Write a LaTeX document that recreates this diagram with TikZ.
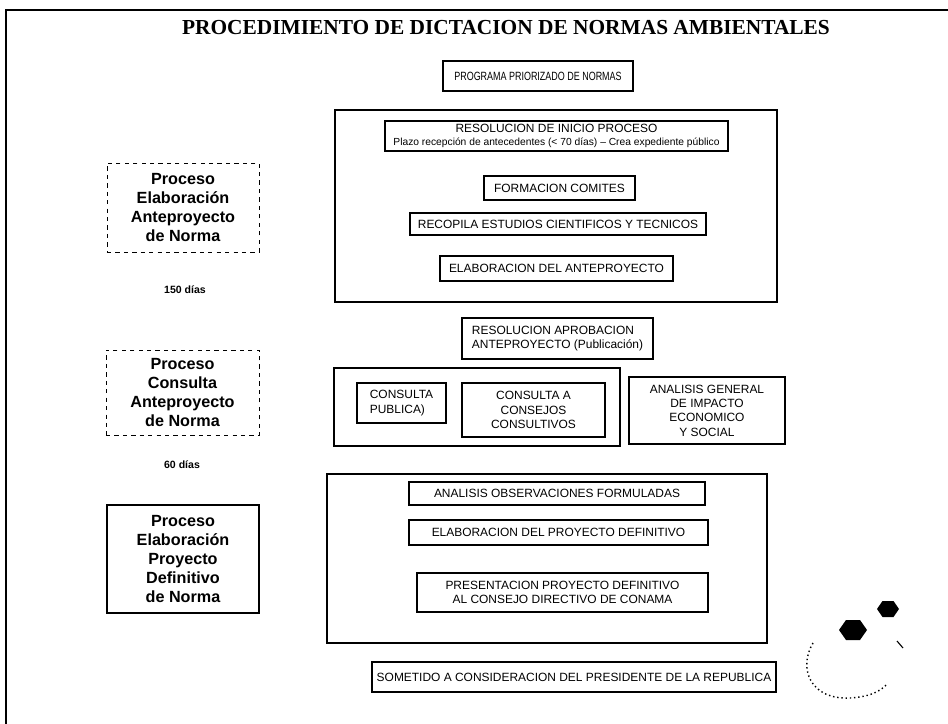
\documentclass[tikz,border=0pt]{standalone}
\usepackage{fontspec}
\setmainfont{Liberation Serif}
\setsansfont{Liberation Sans}
\usepackage{tikz}

\begin{document}
\begin{tikzpicture}[x=0.025cm, y=-0.025cm,
	caja/.style={draw, thick, inner sep=0pt, align=center, font=\sffamily\fontsize{8.5}{10.2}\selectfont},
	rotulo/.style={draw, inner sep=0pt, align=center, font=\sffamily\bfseries\fontsize{11.5}{13.5}\selectfont},
	plazo/.style={inner sep=0pt, font=\sffamily\bfseries\fontsize{7.5}{8}\selectfont},
	marco/.style={line width=1.1pt}]

\useasboundingbox (0,0) rectangle (948,724)					;

%%%%------------Marco y titulo----------------%%
\draw [marco] (6,724) -- (6,10) -- (948,10)					;
\node (titulo) at (506,28) {\fontsize{15.2}{18}\selectfont\bfseries PROCEDIMIENTO DE DICTACION DE NORMAS AMBIENTALES}	;

\node [caja, minimum width=4.75cm, minimum height=0.75cm] (programa) at (538,76) {\scalebox{0.75}[1]{PROGRAMA PRIORIZADO DE NORMAS}}	;

%%%%------------Anteproyecto----------------%%
\draw [marco] (335,110) rectangle (777,302)					;
\node [caja, minimum width=8.575cm, minimum height=0.75cm] (inicio) at (556.5,136)
	{RESOLUCION DE INICIO PROCESO\\[-1.5pt]{\fontsize{7.3}{8}\selectfont Plazo recepción de antecedentes (< 70 días) -- Crea expediente público}}	;
\node [caja, minimum width=3.775cm, minimum height=0.6cm] (comites) at (559.5,188) {FORMACION COMITES}	;
\node [caja, minimum width=7.4cm, minimum height=0.55cm] (estudios) at (558,224) {RECOPILA ESTUDIOS CIENTIFICOS Y TECNICOS}	;
\node [caja, minimum width=5.825cm, minimum height=0.625cm] (anteproy) at (556.5,268.5) {ELABORACION DEL ANTEPROYECTO}	;

\node [rotulo, dashed, thin, minimum width=3.8cm, minimum height=2.225cm] (etapa1) at (183,207.5)
	{Proceso\\Elaboración\\Anteproyecto\\de Norma}			;
\node [plazo] (dias150) at (185,290) {150 días}				;

%%%%------------Consulta----------------%%
\node [caja, align=left, minimum width=4.775cm, minimum height=1.025cm] (aprobacion) at (557.5,338.5)
	{RESOLUCION APROBACION\\ANTEPROYECTO (Publicación)}		;
\draw [marco] (334,368) rectangle (620,446)					;
\node [caja, align=left, minimum width=2.225cm, minimum height=1.0cm] (publica) at (401.5,403) {CONSULTA\\PUBLICA)}	;
\node [caja, minimum width=3.575cm, minimum height=1.35cm] (consejos) at (533.5,410) {CONSULTA A\\CONSEJOS\\CONSULTIVOS}	;
\node [caja, line width=1.1pt, minimum width=3.9cm, minimum height=1.675cm] (impacto) at (707,410.5)
	{ANALISIS GENERAL\\DE IMPACTO\\ECONOMICO\\Y SOCIAL}		;

\node [rotulo, dashed, thin, minimum width=3.825cm, minimum height=2.125cm] (etapa2) at (182.5,392.5)
	{Proceso\\Consulta\\Anteproyecto\\de Norma}				;
\node [plazo] (dias60) at (182,465) {60 días}				;

%%%%------------Proyecto definitivo----------------%%
\draw [marco] (327,474) rectangle (767,643)					;
\node [caja, minimum width=7.4cm, minimum height=0.575cm] (observ) at (557,493.5) {ANALISIS OBSERVACIONES FORMULADAS}	;
\node [caja, minimum width=7.475cm, minimum height=0.625cm] (definitivo) at (558.5,532.5) {ELABORACION DEL PROYECTO DEFINITIVO}	;
\node [caja, minimum width=7.275cm, minimum height=0.975cm] (presenta) at (562.5,592.5)
	{PRESENTACION PROYECTO DEFINITIVO\\AL CONSEJO DIRECTIVO DE CONAMA}	;

\node [rotulo, thick, minimum width=3.8cm, minimum height=2.7cm] (etapa3) at (183,559)
	{Proceso\\Elaboración\\Proyecto\\Definitivo\\de Norma}	;

\node [caja, minimum width=10.1cm, minimum height=0.75cm] (presidente) at (574,677)
	{SOMETIDO A CONSIDERACION DEL PRESIDENTE DE LA REPUBLICA}	;

%%%-------------Logo-------------%%%
\fill (839,630) -- (846,620) -- (860,620) -- (867,630) -- (860,640) -- (846,640) -- cycle	;
\fill (877,609) -- (882.5,601) -- (893.5,601) -- (899,609) -- (893.5,617) -- (882.5,617) -- cycle	;
\draw [dotted, line width=1pt] (813,643) .. controls (798,668) and (810,700) .. (850,698) .. controls (868,697) and (880,692) .. (887,684)	;
\draw [thick] (897,641) -- (903,648)							;

%%%---------- Hjelpe linjer ------------%%%
%    \draw [help lines, step=50] (0,0) grid (948,724);
\end{tikzpicture}
\end{document}
